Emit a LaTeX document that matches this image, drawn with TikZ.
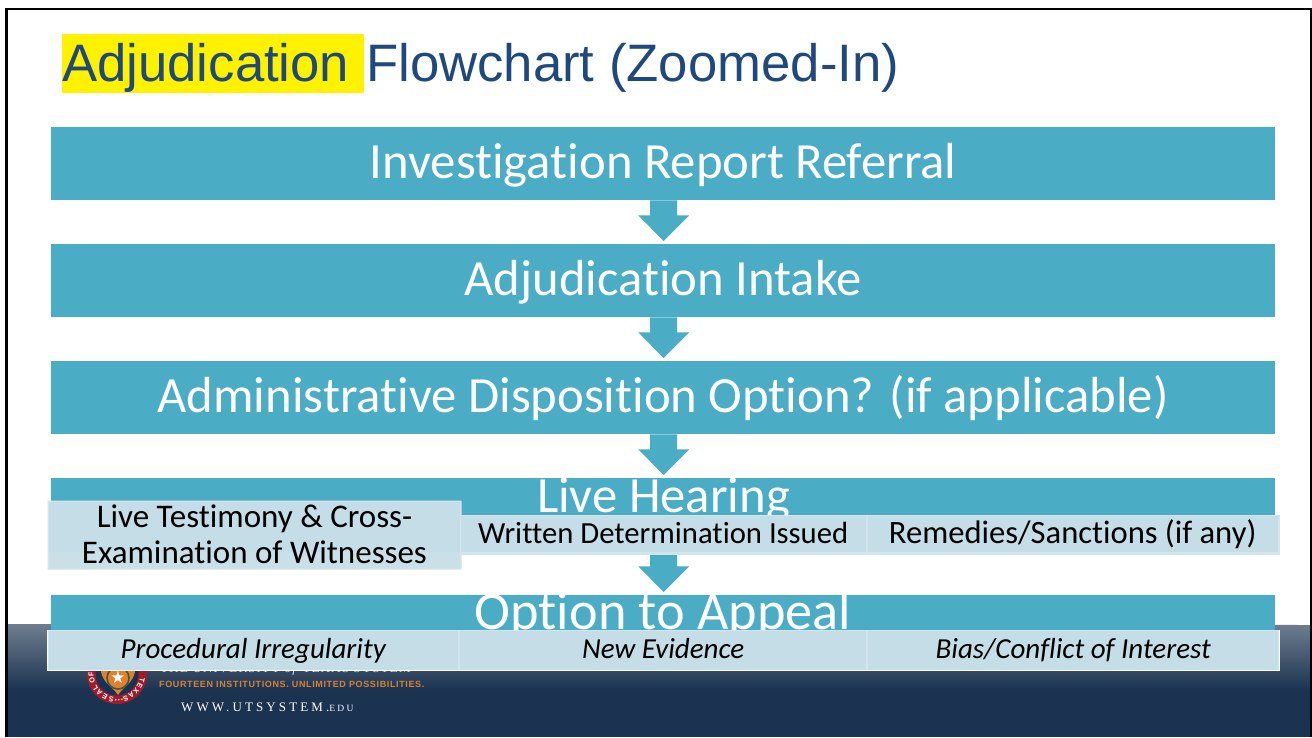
\documentclass[tikz,border=0pt]{standalone}
\usepackage{fontspec}
\setmainfont[Ligatures=CommonOff,Contextuals=NoAlternate]{Carlito}
\newfontfamily\arialf{Liberation Sans}
\newfontfamily\orangef[LetterSpace=7]{Liberation Sans}
\newfontfamily\wwwf[LetterSpace=24]{Liberation Serif}
\newfontfamily\utf[LetterSpace=6]{Liberation Serif}
\newfontfamily\symf{DejaVu Sans}
\usetikzlibrary{calc}
\definecolor{teal1}{HTML}{4BACC6}
\definecolor{pale}{HTML}{C4DDE7}
\definecolor{paleb}{HTML}{D2E4EC}
\definecolor{navy}{HTML}{1F497D}
\definecolor{foot}{HTML}{1B3350}
\definecolor{foottop}{HTML}{6E7E90}
\definecolor{sealred}{HTML}{A01C28}
\definecolor{sealor}{HTML}{E07F2C}
\definecolor{orangetxt}{HTML}{D9812F}
\definecolor{wreath}{HTML}{3E5A3A}
\tikzset{
 x=1pt,y=-1pt,
 bar/.style={fill=teal1,draw=none,minimum width=1224pt,minimum height=73pt,inner sep=0pt,anchor=north west,text=white,text height=51pt,text depth=22pt,font=\fontsize{50.7}{50.7}\selectfont},
 bartext/.style={text=white,font=\fontsize{50.7}{50.7}\selectfont,inner sep=0pt,anchor=base},
 subbox/.style={fill=pale,draw=none,inner sep=0pt,anchor=north west,text=black,align=center,text height=27.5pt,text depth=8.5pt},
 ital/.style={subbox,font=\fontsize{29}{34}\selectfont\itshape,minimum height=39pt,text height=28pt,text depth=11pt},
 downarrow/.style={fill=teal1,draw=none},
 sealletter/.style={text=white,font=\fontsize{7.2}{7.2}\selectfont\bfseries\arialf,inner sep=0pt},
}
\begin{document}
\begin{tikzpicture}
\useasboundingbox (0,0) rectangle (1312,737);
\fill[white] (0,0) rectangle (1312,737);
% footer
\shade[top color=foottop,bottom color=foot] (7,624) -- (1310,625) -- (1310,690) -- (7,690) -- cycle;
\fill[foot] (7,690) rectangle (1310,737);
% frame
\fill[black] (5,8) rectangle (1312,10);
\fill[black] (5,8) rectangle (7.5,737);
\fill[black] (1310,8) rectangle (1312,737);
% seal
\coordinate (seal) at (117,674);
\fill[sealred] (seal) circle (30);
\fill[navy!70!black] (seal) circle (21.5);
\fill[sealor] (103,660) -- (133,660) -- (135,672) .. controls (132,684) and (124,686) .. (118,695) .. controls (112,686) and (104,684) .. (101,672) -- cycle;
\draw[wreath,line width=1.6pt] (118,678) circle (11);
\fill[sealor] (118,678) circle (9.5);
\node[text=white,font=\fontsize{17}{17}\selectfont\symf,inner sep=0pt] (star) at (118,677) {★};
\foreach \a/\c in {-103/S,-118/E,-133/A,-148/L,-166/O,-179/F,-70/S,-56/A,-42/X,-28/E,-14/T}{
 \pgfmathsetmacro\rt{\a-90}
 \node[sealletter,rotate=\rt] at ($(seal)+(-\a:25.8)$) {\c};
}
\foreach \a in {-93,-86,-79}{
 \fill[white!85!sealred] ($(seal)+(-\a:25.8)$) circle (0.9);
}
% footer text
\begin{scope}
\clip (150,669) rectangle (420,680);
\node[text=white!80!foot,font=\fontsize{13.5}{13.5}\selectfont\utf,anchor=base west,inner sep=0pt] (ut) at (160,672) {THE UNIVERSITY \textit{of} TEXAS SYSTEM};
\end{scope}
\node[text=orangetxt,font=\fontsize{9}{9}\selectfont\bfseries\orangef,anchor=base west,inner sep=0pt] (ft) at (159,687) {FOURTEEN INSTITUTIONS. UNLIMITED POSSIBILITIES.};
\node[text=white,font=\fontsize{13}{13}\selectfont\wwwf,anchor=base west,inner sep=0pt] (www) at (181,711) {WWW.UTSYSTEM.\fontsize{9.5}{9.5}\selectfont EDU};
% title
\fill[yellow] (62,34) rectangle (364,93);
\node[text=navy,font=\fontsize{52.7}{52.7}\selectfont\arialf,anchor=base west,inner sep=0pt] (title) at (62,81) {Adjudication};
\node[text=navy,font=\fontsize{52.7}{52.7}\selectfont\arialf,anchor=base west,inner sep=0pt] (title2) at (366,81) {Flowchart (Zoomed-In)};
% bars
\node[bar] (b1) at (51,127) {Investigation Report Referral};
\node[bar] (b2) at (51,244) {Adjudication Intake};
\node[bar] (b3) at (51,361) {Administrative Disposition Option? (if applicable)};
\node[bar] (b4) at (51,478) {};
\node[bartext] (b4t) at (663.5,512) {Live Hearing};
\node[bar] (b5) at (51,595) {};
\node[bartext,font=\fontsize{54.3}{54.3}\selectfont] (b5t) at (663,629) {Option to Appeal};
% arrows
\foreach \p/\q in {b1/b2,b2/b3,b3/b4,b4/b5}{
 \fill[downarrow] ($(\p.south)+(-13,0)$) -- ($(\p.south)+(14,0)$) -- ($(\p.south)+(14,15)$) -- ($(\p.south)+(26,15)$) -- ($(\q.north)+(0.5,-3)$) -- ($(\p.south)+(-25,15)$) -- ($(\p.south)+(-13,15)$) -- cycle;
}
% row 1
\fill[paleb,rounded corners=0.5pt] (47.5,500.5) rectangle (461.5,569.5);
\fill[paleb] (458.5,514.5) rectangle (867,554.5);
\fill[paleb] (866,514.5) rectangle (1279.5,554.5);
\node[subbox,minimum width=411pt,minimum height=50.5pt,text height=,text depth=] (lt) at (49,501.5) {};
\fill[pale!55!paleb] (49,552) rectangle (460,568.5);
\node[subbox,fill=none,anchor=center,text height=,text depth=,font=\fontsize{33}{36}\selectfont] (ltt) at (254.5,534.5) {Live Testimony \& Cross-\\Examination of Witnesses};
\node[subbox,minimum width=405pt,minimum height=36pt,font=\fontsize{30.7}{36}\selectfont] (wd) at (460.5,515.5) {Written Determination Issued};
\node[subbox,minimum width=410pt,minimum height=36pt,font=\fontsize{32.6}{36}\selectfont] (rs) at (867.5,515.5) {Remedies/Sanctions (if any)};
% row 2
\fill[white] (46.5,630) rectangle (1280,671);
\fill[paleb] (47.5,629.5) rectangle (1278.5,669.5);
\node[ital,minimum width=409pt] (pi) at (48.5,630.5) {Procedural Irregularity};
\node[ital,minimum width=406pt] (ne) at (460,630.5) {New Evidence};
\node[ital,minimum width=410pt] (bc) at (868,630.5) {Bias/Conflict of Interest};
\end{tikzpicture}
\end{document}
